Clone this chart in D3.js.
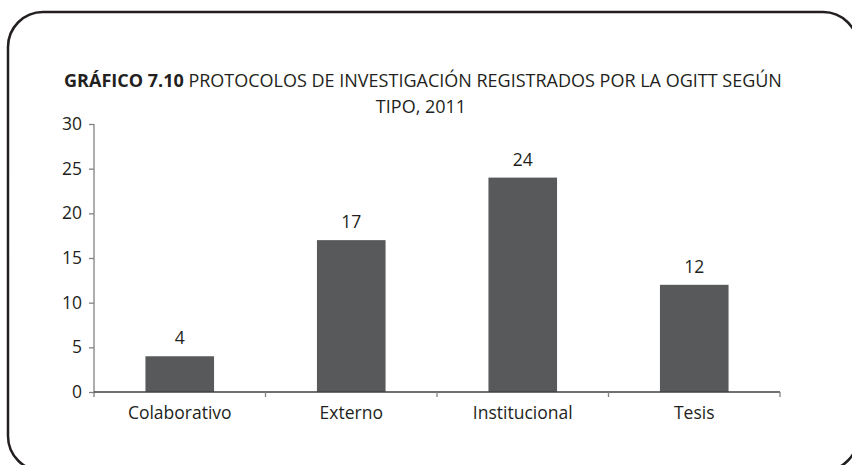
<!DOCTYPE html>
<html>
<head>
<meta charset="utf-8">
<script src="https://cdn.jsdelivr.net/npm/d3@7"></script>
<style>
  html, body { margin: 0; padding: 0; background: #fff; }
  svg { display: block; }
  text { font-family: "Open Sans", "Noto Sans", sans-serif; fill: #231f20; }
</style>
</head>
<body>
<svg id="chart" width="852" height="465"></svg>
<script>
// Protocolos de investigación registrados por la OGITT según tipo, 2011
const categories = ["Colaborativo", "Externo", "Institucional", "Tesis"];
const values = [4, 17, 24, 12];
const yTicks = [0, 5, 10, 15, 20, 25, 30];
const titleBold = "GRÁFICO 7.10";
const titleLine1 = " PROTOCOLOS DE INVESTIGACIÓN REGISTRADOS POR LA OGITT SEGÚN";
const titleLine2 = "TIPO, 2011";

const svg = d3.select("#chart");

// rounded frame around the figure
svg.append("rect")
  .attr("x", 8).attr("y", 12)
  .attr("width", 850).attr("height", 459)
  .attr("rx", 35).attr("ry", 35)
  .attr("fill", "none")
  .attr("stroke", "#231f20")
  .attr("stroke-width", 2.5);

const margin = { left: 94, right: 72, top: 124, bottom: 73 };
const width = 852 - margin.left - margin.right;
const height = 465 - margin.top - margin.bottom;

const g = svg.append("g").attr("transform", `translate(${margin.left},${margin.top})`);

const x = d3.scaleBand().domain(categories).range([0, width]).paddingInner(0.6).paddingOuter(0.3);
const xb = d3.scaleBand().domain(categories).range([0, width]);
const y = d3.scaleLinear().domain([0, 30]).range([height, 0]);

const fs = "17.5px";

// title
const title = svg.append("text")
  .attr("x", 423).attr("y", 87)
  .attr("text-anchor", "middle")
  .style("font-size", "18px");
title.append("tspan").style("font-weight", "bold").text(titleBold);
title.append("tspan").text(titleLine1);
svg.append("text")
  .attr("x", 421).attr("y", 113)
  .attr("text-anchor", "middle")
  .style("font-size", "18px")
  .text(titleLine2);

// bars
g.selectAll("rect.bar")
  .data(values)
  .join("rect")
  .attr("class", "bar")
  .attr("x", (d, i) => x(categories[i]))
  .attr("width", x.bandwidth())
  .attr("y", d => y(d))
  .attr("height", d => height - y(d))
  .attr("fill", "#58595b");

// value labels
g.selectAll("text.val")
  .data(values)
  .join("text")
  .attr("class", "val")
  .attr("x", (d, i) => x(categories[i]) + x.bandwidth() / 2)
  .attr("y", d => y(d) - 12)
  .attr("text-anchor", "middle")
  .style("font-size", fs)
  .text(d => d);

// y axis
const yAxis = g.append("g")
  .call(d3.axisLeft(y).tickValues(yTicks).tickSize(5).tickPadding(7));
yAxis.select(".domain").attr("stroke", "#808285").attr("stroke-width", 1.3)
  .attr("d", `M0,${y(30)}V${height + 5}`);
yAxis.selectAll(".tick line").attr("stroke", "#808285").attr("stroke-width", 1.3);
yAxis.selectAll(".tick text").style("font-size", fs).attr("fill", "#231f20")
  .style("font-family", "'Open Sans', 'Noto Sans', sans-serif");

// x axis: baseline with ticks at band boundaries
const xAxis = g.append("g").attr("transform", `translate(0,${height})`);
xAxis.append("line")
  .attr("x1", 0).attr("x2", width)
  .attr("stroke", "#414042").attr("stroke-width", 1.5);
const bounds = categories.map(c => xb(c)).concat([width]);
xAxis.selectAll("line.tk")
  .data(bounds.slice(1))
  .join("line")
  .attr("class", "tk")
  .attr("x1", d => d).attr("x2", d => d)
  .attr("y1", 0).attr("y2", 5)
  .attr("stroke", "#808285").attr("stroke-width", 1.3);
xAxis.selectAll("text.cat")
  .data(categories)
  .join("text")
  .attr("class", "cat")
  .attr("x", c => xb(c) + xb.bandwidth() / 2)
  .attr("y", 27)
  .attr("text-anchor", "middle")
  .style("font-size", fs)
  .text(c => c);
</script>
</body>
</html>
